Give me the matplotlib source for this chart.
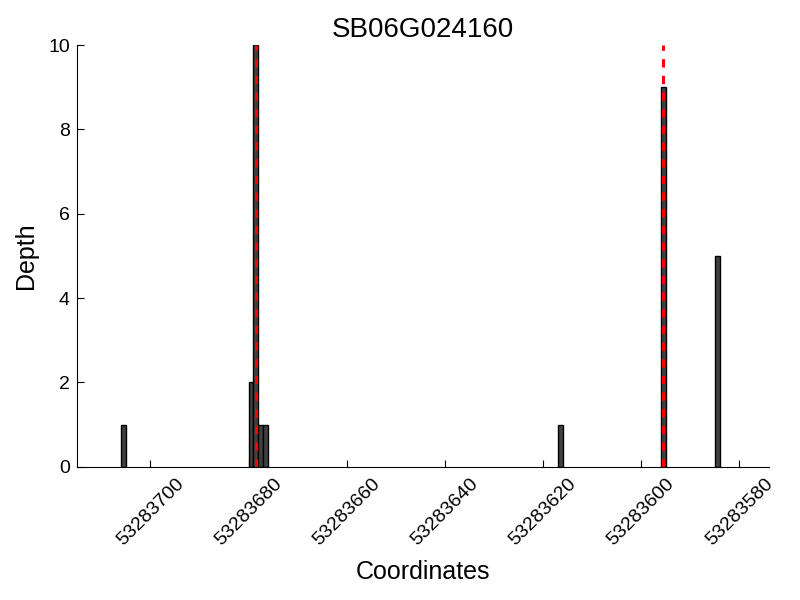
import matplotlib
matplotlib.use('Agg')
import matplotlib.pyplot as plt

plt.rcParams['font.family'] = ['Liberation Sans', 'DejaVu Sans']
plt.rcParams['lines.scale_dashes'] = False

# read depth per coordinate (bars start at each coordinate, width 1)
gene = 'SB06G024160'
coords = [53283705, 53283679, 53283678, 53283677, 53283676, 53283616, 53283595, 53283584]
depth = [1, 2, 10, 1, 1, 1, 9, 5]
marks = [53283678.5, 53283595.5]
xticks = [53283700, 53283680, 53283660, 53283640, 53283620, 53283600, 53283580]
yticks = [0, 2, 4, 6, 8, 10]

fig = plt.figure(figsize=(8, 6), dpi=100)
ax = fig.add_axes([0.096, 0.222, 0.865, 0.703])

ax.bar(coords, depth, width=1, align='edge', color='#404040', edgecolor='black', linewidth=1)
for m in marks:
    ax.axvline(m, color='red', linestyle='--', dashes=(6, 6), linewidth=2.2)

ax.set_xlim(53283715, 53283574)
ax.set_ylim(0, 10)
ax.set_xticks(xticks)
ax.set_xticklabels([str(t) for t in xticks], rotation=45, fontsize=14)
ax.set_yticks(yticks)
ax.set_yticklabels([str(t) for t in yticks], fontsize=14)
ax.tick_params(direction='in', length=5, top=False, right=False)
ax.tick_params(axis='x', pad=6)
ax.tick_params(axis='y', pad=5)

ax.spines['top'].set_visible(False)
ax.spines['right'].set_visible(False)

ax.set_title(gene, fontsize=20)
ax.set_xlabel('Coordinates', fontsize=18, labelpad=8)
ax.set_ylabel('Depth', fontsize=18, labelpad=7)

fig.savefig('out.png', dpi=100)
